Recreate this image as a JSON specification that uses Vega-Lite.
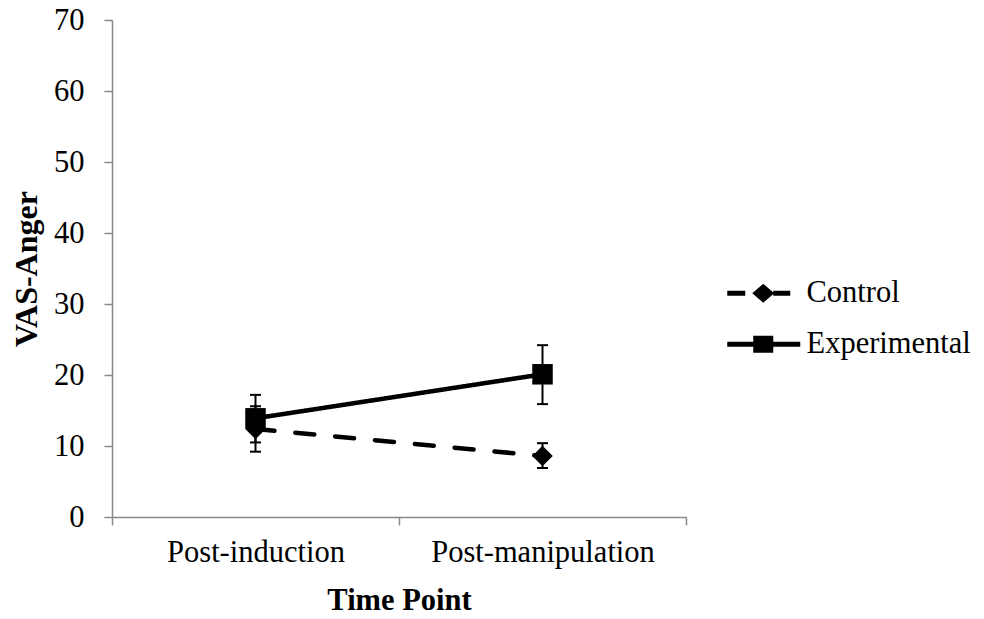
{
  "$schema": "https://vega.github.io/schema/vega-lite/v6.json",
  "width": 574,
  "height": 497,
  "autosize": {"type": "none"},
  "padding": {"left": 112, "top": 20, "right": 298, "bottom": 102},
  "background": "white",
  "config": {"view": {"stroke": null}, "font": "Liberation Serif"},
  "data": {
    "values": [
      {"time": "Post-induction", "group": "Control", "mean": 12.4, "lo": 9.2, "hi": 15.6},
      {"time": "Post-manipulation", "group": "Control", "mean": 8.6, "lo": 6.9, "hi": 10.4},
      {"time": "Post-induction", "group": "Experimental", "mean": 13.9, "lo": 10.5, "hi": 17.2},
      {"time": "Post-manipulation", "group": "Experimental", "mean": 20.1, "lo": 15.9, "hi": 24.2}
    ]
  },
  "resolve": {"scale": {"shape": "independent"}, "legend": {"shape": "independent"}},
  "encoding": {
    "x": {
      "field": "time",
      "type": "ordinal",
      "sort": ["Post-induction", "Post-manipulation"],
      "bandPosition": 0.5,
      "scale": {"type": "band", "paddingInner": 0, "paddingOuter": 0},
      "axis": {
        "title": "Time Point",
        "labelAngle": 0,
        "labelLimit": 0,
        "tickBand": "extent",
        "domainColor": "#898989",
        "tickColor": "#898989",
        "domainWidth": 1.5,
        "tickWidth": 1.5,
        "tickSize": 8,
        "labelPadding": 12,
        "labelFontSize": 30.5,
        "labelFont": "Liberation Serif",
        "labelColor": "black",
        "titleFont": "Liberation Serif",
        "titleFontSize": 30.5,
        "titleFontWeight": "bold",
        "titleColor": "black",
        "titlePadding": 18
      }
    }
  },
  "layer": [
    {
      "mark": {"type": "rule", "strokeWidth": 2, "color": "black"},
      "encoding": {
        "y": {
          "field": "lo",
          "type": "quantitative",
          "scale": {"domain": [0, 70], "nice": false, "zero": true},
          "axis": {
            "title": "VAS-Anger",
            "values": [0, 10, 20, 30, 40, 50, 60, 70],
            "grid": false,
            "domainColor": "#898989",
            "tickColor": "#898989",
            "domainWidth": 1.5,
            "tickWidth": 1.5,
            "tickSize": 8,
            "labelPadding": 20,
            "labelFontSize": 30.5,
            "labelFont": "Liberation Serif",
            "labelColor": "black",
            "titleFont": "Liberation Serif",
            "titleFontSize": 32,
            "titleFontWeight": "bold",
            "titleColor": "black",
            "titlePadding": 10
          }
        },
        "y2": {"field": "hi"},
        "detail": {"field": "group"}
      }
    },
    {
      "mark": {"type": "tick", "size": 11, "thickness": 2, "color": "black", "opacity": 1},
      "encoding": {
        "y": {"field": "lo", "type": "quantitative", "title": "VAS-Anger"},
        "detail": {"field": "group"}
      }
    },
    {
      "mark": {"type": "tick", "size": 11, "thickness": 2, "color": "black", "opacity": 1},
      "encoding": {
        "y": {"field": "hi", "type": "quantitative", "title": "VAS-Anger"},
        "detail": {"field": "group"}
      }
    },
    {
      "mark": {"type": "line", "strokeWidth": 4.5, "color": "black", "strokeCap": "round"},
      "encoding": {
        "y": {"field": "mean", "type": "quantitative", "title": "VAS-Anger"},
        "strokeDash": {
          "field": "group",
          "type": "nominal",
          "scale": {"range": [[19, 21], [1, 0]]},
          "legend": null
        }
      }
    },
    {
      "mark": {"type": "point", "filled": true, "color": "black", "opacity": 1, "size": 420},
      "encoding": {
        "y": {"field": "mean", "type": "quantitative", "title": "VAS-Anger"},
        "shape": {
          "field": "group",
          "type": "nominal",
          "scale": {"domain": ["Control", "Experimental"], "range": ["diamond", "square"]},
          "legend": null
        }
      }
    },
    {
      "mark": {"type": "point", "filled": true, "color": "black", "opacity": 0, "size": 4},
      "encoding": {
        "y": {"field": "mean", "type": "quantitative", "title": "VAS-Anger"},
        "shape": {
          "field": "group",
          "type": "nominal",
          "scale": {
            "domain": ["Control", "Experimental"],
            "range": [
              "M-36,-2.5H-18V2.5H-36Z M-11,0L0,-9.5L11,0L0,9.5Z M10,-2.5H27V2.5H10Z",
              "M-36,-2.5H37V2.5H-36Z M-10,-8.5H10V8.5H-10Z"
            ]
          },
          "legend": {
            "title": null,
            "orient": "none",
            "legendX": 636,
            "legendY": 258,
            "padding": 0,
            "labelFontSize": 30.5,
            "labelFont": "Liberation Serif",
            "labelColor": "black",
            "labelLimit": 0,
            "labelOffset": 28,
            "symbolSize": 4,
            "symbolOpacity": 1,
            "symbolFillColor": "black",
            "symbolStrokeColor": "transparent",
            "symbolStrokeWidth": 0,
            "rowPadding": 20
          }
        }
      }
    }
  ]
}
